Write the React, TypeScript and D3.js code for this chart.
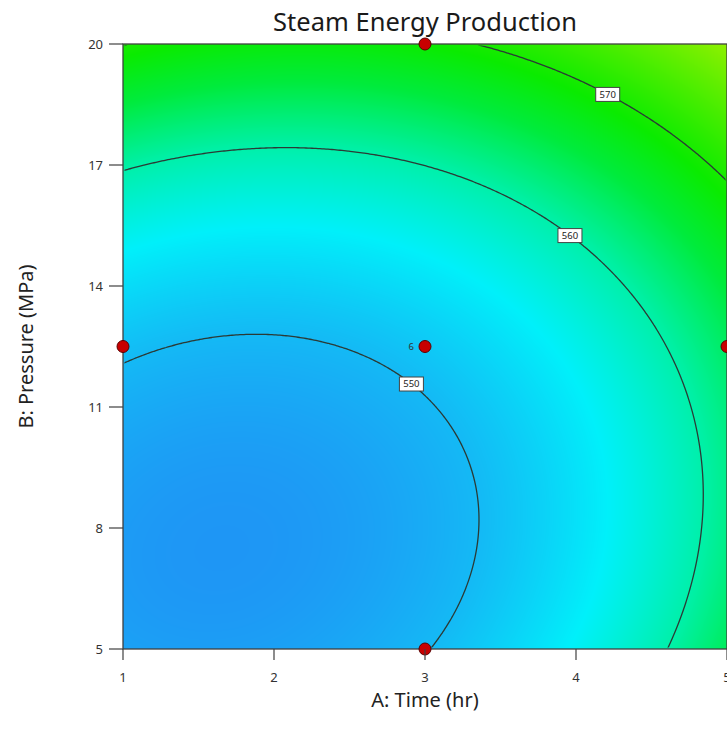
import React, { useMemo } from 'react';
import * as d3 from 'd3';

// axis ticks
const timeTicks = [1, 2, 3, 4, 5];
const pressureTicks = [5, 8, 11, 14, 17, 20];

// fitted response model: Steam = b0 + bA*A + bB*B + bAB*A*B + bAA*A^2 + bBB*B^2
const modelTerms = ['Intercept', 'A', 'B', 'AB', 'A^2', 'B^2'];
const modelCoefs = [556.4874, -3.7412, -1.9678, -0.12009, 1.40195, 0.144435];

// contour lines and where their labels sit (in hours)
const contourLevels = [550, 560, 570];
const labelTimes = [2.91, 3.96, 4.21];

// design points
const designTime = [1, 3, 3, 3, 5];
const designPressure = [12.5, 20, 12.5, 5, 12.5];
const designReps = [1, 1, 6, 1, 1];

// colour ramp of the response
const colorValues = [546, 550, 555, 560, 565, 569, 579];
const colorStops = ['#1e96f5', '#14b9f5', '#00f0fa', '#00f0aa', '#00eb3c', '#0aeb00', '#8cf000'];

const W = 727;
const H = 738;
const margin = { left: 123, top: 44, right: 0, bottom: 89 };

const predict = (a: number, b: number) => {
  const [b0, bA, bB, bAB, bAA, bBB] = modelCoefs;
  return b0 + bA * a + bB * b + bAB * a * b + bAA * a * a + bBB * b * b;
};

export default function App() {
  const x = d3.scaleLinear().domain([1, 5]).range([margin.left, W - margin.right]);
  const y = d3.scaleLinear().domain([5, 20]).range([H - margin.bottom, margin.top]);
  const color = d3
    .scaleLinear<string>()
    .domain(colorValues)
    .range(colorStops)
    .interpolate(d3.interpolateRgb)
    .clamp(true);

  const pw = Math.round(x.range()[1] - x.range()[0]);
  const ph = Math.round(y.range()[0] - y.range()[1]);

  const imageUrl = useMemo(() => {
    const canvas = document.createElement('canvas');
    canvas.width = pw;
    canvas.height = ph;
    const ctx = canvas.getContext('2d');
    if (!ctx) return '';
    const img = ctx.createImageData(pw, ph);
    for (let j = 0; j < ph; j++) {
      const b = y.invert(margin.top + j + 0.5);
      for (let i = 0; i < pw; i++) {
        const a = x.invert(margin.left + i + 0.5);
        const c = d3.rgb(color(predict(a, b)));
        const k = (j * pw + i) * 4;
        img.data[k] = c.r;
        img.data[k + 1] = c.g;
        img.data[k + 2] = c.b;
        img.data[k + 3] = 255;
      }
    }
    ctx.putImageData(img, 0, 0);
    return canvas.toDataURL();
  }, []);

  // contour lines on a grid
  const nx = 302;
  const ny = 302;
  const grid: number[] = new Array(nx * ny);
  for (let j = 0; j < ny; j++) {
    const b = y.invert(margin.top + ((j + 0.5) / ny) * ph);
    for (let i = 0; i < nx; i++) {
      const a = x.invert(margin.left + ((i + 0.5) / nx) * pw);
      grid[j * nx + i] = predict(a, b);
    }
  }
  const contours = d3.contours().size([nx, ny]).thresholds(contourLevels)(grid);
  const proj = d3.geoTransform({
    point(px: number, py: number) {
      (this as any).stream.point(margin.left + (px / nx) * pw, margin.top + (py / ny) * ph);
    },
  });
  const path = d3.geoPath(proj);

  // find the pressure on the upper branch of each contour at the label time
  const labels = contourLevels.map((lv, idx) => {
    const a = labelTimes[idx];
    let prev = 20;
    let found = 20;
    for (let b = 20; b >= 5; b -= 0.01) {
      if ((predict(a, prev) - lv) * (predict(a, b) - lv) <= 0) {
        found = b;
        break;
      }
      prev = b;
    }
    return { level: lv, a, b: found };
  });

  const font = "'Noto Sans', 'Open Sans', sans-serif";
  const midX = (x.range()[0] + x.range()[1]) / 2;

  return (
    <svg width={W} height={H} style={{ position: 'absolute', left: 0, top: 0, background: '#fff' }} fontFamily={font}>
      <defs>
        <clipPath id="plot-inset">
          <rect x={margin.left + 1.5} y={margin.top + 1.5} width={pw - 3} height={ph - 3} />
        </clipPath>
      </defs>
      <text x={midX} y={31} textAnchor="middle" fontSize={25.5} fill="#1a1a1a">
        Steam Energy Production
      </text>

      <image href={imageUrl} x={margin.left} y={margin.top} width={pw} height={ph} preserveAspectRatio="none" />

      <g clipPath="url(#plot-inset)">
        {contours.map((c, i) => (
          <path key={i} d={path(c as any) || ''} fill="none" stroke="#2b3a35" strokeWidth={1.3} />
        ))}
      </g>

      {/* frame */}
      <rect x={margin.left} y={margin.top} width={pw} height={ph} fill="none" stroke="#404040" strokeWidth={1.3} />

      {labels.map((l) => (
        <g key={l.level} transform={`translate(${x(l.a)},${y(l.b)})`}>
          <rect x={-12} y={-7} width={24} height={14} fill="#fff" stroke="#444" strokeWidth={1} />
          <text textAnchor="middle" dy="0.35em" fontSize={9.5} fill="#222">
            {l.level}
          </text>
        </g>
      ))}

      {designTime.map((a, i) => (
        <g key={i}>
          <circle cx={x(a)} cy={y(designPressure[i])} r={6} fill="#c80000" stroke="#5a0000" strokeWidth={1} />
          {designReps[i] > 1 && (
            <text x={x(a) - 11} y={y(designPressure[i])} dy="0.35em" textAnchor="end" fontSize={9.5} fill="#333">
              {designReps[i]}
            </text>
          )}
        </g>
      ))}

      {/* x axis */}
      {timeTicks.map((t) => (
        <g key={t} transform={`translate(${x(t)},${H - margin.bottom})`}>
          <line y2={11} stroke="#404040" strokeWidth={1.2} />
          <text y={33} textAnchor="middle" fontSize={13} fill="#333">
            {t}
          </text>
        </g>
      ))}
      <text x={midX} y={707} textAnchor="middle" fontSize={20} fill="#222">
        A: Time (hr)
      </text>

      {/* y axis */}
      {pressureTicks.map((t) => (
        <g key={t} transform={`translate(${margin.left},${y(t)})`}>
          <line x2={-14} stroke="#404040" strokeWidth={1.2} />
          <text x={-20} dy="0.35em" textAnchor="end" fontSize={13} fill="#333">
            {t}
          </text>
        </g>
      ))}
      <text
        transform={`translate(33,${(y.range()[0] + y.range()[1]) / 2}) rotate(-90)`}
        textAnchor="middle"
        fontSize={20}
        fill="#222"
      >
        B: Pressure (MPa)
      </text>
    </svg>
  );
}
